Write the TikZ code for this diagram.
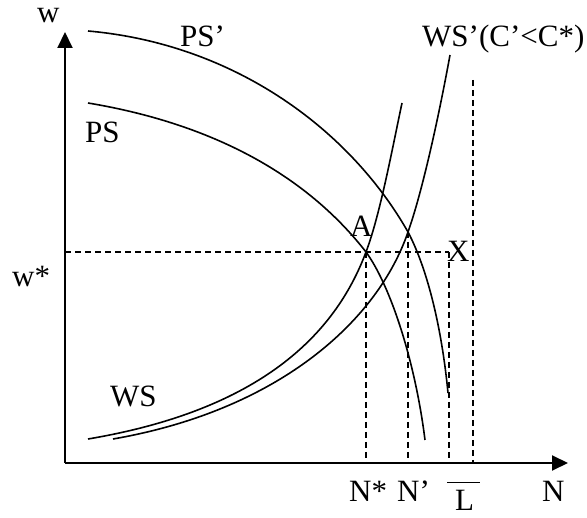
\documentclass[tikz,border=0pt]{standalone}
\usepackage{fontspec}
\setmainfont{Liberation Serif}
\usetikzlibrary{arrows.meta, positioning, calc}

\begin{document}
\begin{tikzpicture}[x=1pt, y=-1pt, font=\fontsize{31}{36}\selectfont,
    axis/.style={line width=2pt, -{Triangle[length=16pt, width=15pt]}},
    curve/.style={line width=1.6pt},
    guide/.style={line width=1.4pt, dash pattern=on 6pt off 4pt},
    lbl/.style={anchor=base west, inner sep=0pt}]
\useasboundingbox (0,0) rectangle (587,518);

% Axes
\coordinate (O) at (65,463);
\coordinate (wtop) at (65,32);
\coordinate (Nend) at (568,463);
\draw[axis] (O) -- (wtop);
\draw[axis] (O) -- (Nend);

% Equilibrium points
\coordinate (A) at (366,252);
\coordinate (B) at (408,232);
\coordinate (Xpt) at (449,252);
\coordinate (Ltop) at (473,80);

% Price-setting curves
\draw[curve] (88,31) .. controls (235,44) and (350,130) .. (B)
    .. controls (428,270) and (442,330) .. (448,393);
\draw[curve] (88,103) .. controls (220,125) and (310,180) .. (A)
    .. controls (390,285) and (415,360) .. (425,440);

% Wage-setting curves
\draw[curve] (88,439) .. controls (260,410) and (335,335) .. (A)
    .. controls (380,215) and (392,150) .. (402,103);
\draw[curve] (113,439) .. controls (280,410) and (378,320) .. (B)
    .. controls (423,190) and (440,110) .. (450,55);

% Guide lines
\draw[guide] (A -| O) -- (A) -- (Xpt);
\draw[guide] (A) -- (A |- O);
\draw[guide] (B) -- (B |- O);
\draw[guide] (Xpt) -- (Xpt |- O);
\draw[guide] (Ltop) -- (Ltop |- O);

% Labels
\node[lbl] (w) at (37,23) {w};
\node[lbl] (wstar) at (12,287) {w*};
\node[lbl] (PSp) at (180,47) {PS’};
\node[lbl] (PS) at (85,143) {PS};
\node[lbl] (WS) at (110,407) {WS};
\node[lbl] (WSp) at (422,47) {WS’(C’<C*)};
\node[lbl] (Alab) at (350,237) {A};
\node[lbl] (Xlab) at (447,262) {X};
\node[lbl] (Nstar) at (349,502) {N*};
\node[lbl] (Np) at (397,502) {N’};
\node[lbl] (Lbar) at (455,511) {L};
\node[lbl] (Nlab) at (542,502) {N};
\draw[line width=1.4pt] ($(Lbar.north west)+(-8,-8)$) -- ($(Lbar.north east)+(6,-8)$);
\end{tikzpicture}
\end{document}
